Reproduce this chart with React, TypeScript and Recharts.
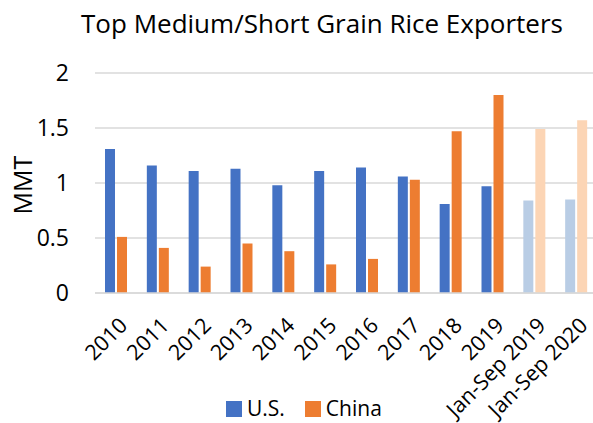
import React from 'react';
import { BarChart, Bar, XAxis, YAxis, CartesianGrid, Legend, Cell } from 'recharts';

const categories = ['2010', '2011', '2012', '2013', '2014', '2015', '2016', '2017', '2018', '2019', 'Jan-Sep 2019', 'Jan-Sep 2020'];
const usValues = [1.31, 1.16, 1.11, 1.13, 0.98, 1.11, 1.14, 1.06, 0.81, 0.97, 0.84, 0.85];
const chinaValues = [0.51, 0.41, 0.24, 0.45, 0.38, 0.26, 0.31, 1.03, 1.47, 1.8, 1.49, 1.57];
const partialPeriods = ['Jan-Sep 2019', 'Jan-Sep 2020'];
const yTicks = [0, 0.5, 1, 1.5, 2];

const FONT = '"Open Sans", sans-serif';
const BLUE = '#4472C4';
const ORANGE = '#ED7D31';
const LIGHT_BLUE = '#B9CDE5';
const LIGHT_ORANGE = '#FCD5B5';
const GRID = '#D9D9D9';

const data = categories.map((name, i) => ({ name, us: usValues[i], china: chinaValues[i] }));

const XTick = (props: any) => {
  const { x, y, payload } = props;
  return (
    <text
      x={x + 2}
      y={y}
      transform={`rotate(-45, ${x + 2}, ${y})`}
      textAnchor="end"
      dy="0.71em"
      fontSize={21.5}
      fontFamily={FONT}
      fill="#000"
    >
      {payload.value}
    </text>
  );
};

const LegendContent = () => (
  <div style={{ display: 'flex', alignItems: 'center', fontFamily: FONT, fontSize: 21, lineHeight: '22px', color: '#000', whiteSpace: 'nowrap' }}>
    <span style={{ display: 'inline-block', width: 16, height: 16, background: BLUE, marginRight: 5, marginTop: 2 }} />
    <span style={{ marginRight: 20 }}>U.S.</span>
    <span style={{ display: 'inline-block', width: 16, height: 16, background: ORANGE, marginRight: 5, marginTop: 2 }} />
    <span>China</span>
  </div>
);

export default function App() {
  return (
    <div style={{ position: 'absolute', left: 0, top: 0, width: 593, height: 423, overflow: 'hidden', background: '#fff' }}>
      <BarChart
        width={600}
        height={423}
        data={data}
        margin={{ top: 73, right: 3, bottom: 30, left: 0 }}
        barGap={2}
      >
        <CartesianGrid vertical={false} stroke={GRID} strokeWidth={1.5} />
        <XAxis
          dataKey="name"
          interval={0}
          height={100}
          tickLine={false}
          tickSize={0}
          tickMargin={23}
          axisLine={{ stroke: GRID, strokeWidth: 1.5 }}
          tick={<XTick />}
        />
        <YAxis
          width={95}
          domain={[0, 2]}
          ticks={yTicks}
          axisLine={false}
          tickLine={false}
          tickSize={0}
          tickMargin={26}
          tick={{ fontSize: 23, fontFamily: FONT, fill: '#000' }}
        />
        <Legend
          verticalAlign="middle"
          content={<LegendContent />}
          wrapperStyle={{ position: 'absolute', left: 226, top: 397, width: 220 }}
        />
        <Bar dataKey="us" name="U.S." fill={BLUE} barSize={10} isAnimationActive={false}>
          {data.map((d) => (
            <Cell key={d.name} fill={partialPeriods.includes(d.name) ? LIGHT_BLUE : BLUE} />
          ))}
        </Bar>
        <Bar dataKey="china" name="China" fill={ORANGE} barSize={10} isAnimationActive={false}>
          {data.map((d) => (
            <Cell key={d.name} fill={partialPeriods.includes(d.name) ? LIGHT_ORANGE : ORANGE} />
          ))}
        </Bar>
      </BarChart>
      <svg
        width={593}
        height={423}
        style={{ position: 'absolute', left: 0, top: 0, pointerEvents: 'none' }}
      >
        <text x={322} y={33} textAnchor="middle" fontSize={26} fontFamily={FONT} fill="#000">
          Top Medium/Short Grain Rice Exporters
        </text>
        <text x={32} y={185} textAnchor="middle" transform="rotate(-90, 32, 185)" fontSize={25} fontFamily={FONT} fill="#000">
          MMT
        </text>
      </svg>
    </div>
  );
}
